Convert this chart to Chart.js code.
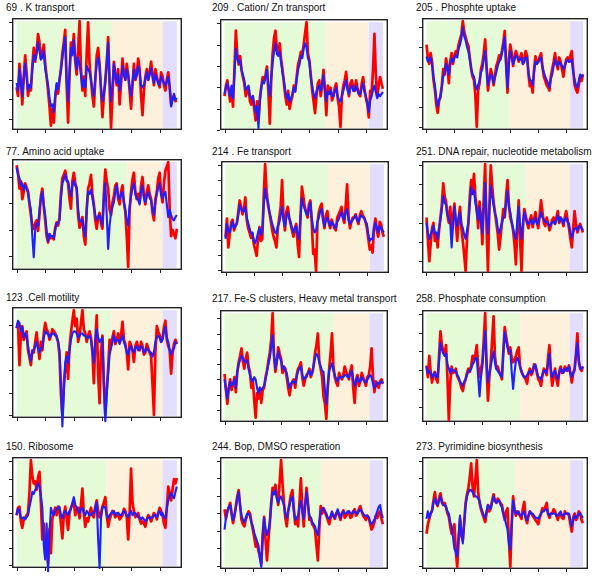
<!DOCTYPE html>
<html><head><meta charset="utf-8">
<script src="https://cdn.jsdelivr.net/npm/chart.js@4/dist/chart.umd.min.js"></script>
<style>
body{margin:0;background:#fff;width:600px;height:576px;position:relative;overflow:hidden;font-family:"Liberation Sans",Arial,Helvetica,sans-serif}
.t{position:absolute;font-size:10px;line-height:12px;color:#111;white-space:nowrap}
canvas{position:absolute}
</style></head><body>
<script>
// sample times (x values)
const times=[0,2.5,5,7.5,10,12.5,15,17.5,20,22.5,25,27.5,30,32.5,35,37.5,40,42.5,45,47.5,50,52.5,55,57.5,60,62.5,65,67.5,70,72.5,75,77.5,80,82.5,85,87.5,90,92.5,95,97.5,100,102.5,105,107.5,110,112.5,115,117.5,120,122.5,125,127.5,130,132.5,135,137.5,140,142.5,145,147.5,150,152.5,155,157.5,160,162.5,165,167.5,170,172.5,175,177.5,180,182.5,185,187.5,190,192.5,195,197.5,200,202.5,205,207.5,210,212.5,215,217.5,220,222.5,225,227.5,230,232.5,235,237.5,240,242.5,245,247.5,250,252.5,255,257.5,260,262.5,265,267.5,270,272.5,275,277.5,280];
const xTicks=[0,50,100,150,200,250];
const titles=["69 . K transport","209 . Cation/ Zn transport","205 . Phosphte uptake","77. Amino acid uptake","214 . Fe transport","251. DNA repair, nucleotide metabolism","123 .Cell motility","217. Fe-S clusters, Heavy metal transport","258. Phosphate consumption","150. Ribosome","244. Bop, DMSO resperation","273. Pyrimidine biosynthesis"];

const red1=[38,30,60,45,22,48,68,52,30,40,35,58,75,62,72,88,80,65,70,78,60,48,35,20,2,18,5,28,40,32,45,55,70,80,92,40,5,50,80,70,88,62,50,72,100,55,35,48,30,70,99,60,45,30,20,45,68,75,60,35,10,30,45,62,85,40,0,30,62,50,40,55,22,42,65,52,45,60,50,35,18,40,60,45,50,65,55,30,12,35,48,55,45,52,62,50,40,55,48,42,38,52,48,40,35,45,52,38,22,28,30,25,26];
const blue1=[42,35,55,42,30,46,60,48,35,40,38,55,68,64,70,80,72,64,66,72,55,48,40,28,20,22,15,30,42,36,45,55,65,76,85,45,25,52,75,68,82,65,55,66,60,50,38,45,38,58,55,52,45,36,30,46,60,66,58,38,25,32,42,60,80,45,25,40,60,50,42,50,35,44,58,50,45,55,50,38,30,42,55,46,50,58,52,40,38,40,46,52,45,50,56,48,42,50,46,42,40,48,45,42,40,44,48,38,20,26,32,26,28];
const red2=[30,40,45,35,25,38,20,55,92,70,60,68,55,48,42,30,35,38,25,22,30,18,7,25,10,28,39,48,45,50,58,35,4,45,70,85,92,75,70,80,65,55,42,30,22,35,18,25,30,40,35,48,60,65,72,70,79,90,100,70,64,50,35,25,14,30,42,45,30,40,55,35,12,40,33,38,26,30,38,42,28,20,1,30,40,45,53,38,30,42,45,38,35,45,38,32,30,42,48,36,28,22,10,35,32,55,89,50,30,40,48,42,37];
const blue2=[32,38,42,36,30,40,28,50,75,66,62,64,55,50,45,36,38,40,30,28,30,22,15,20,0,25,38,44,42,48,55,40,30,46,62,72,80,70,68,72,62,52,45,35,28,32,25,28,32,38,34,45,55,60,68,66,75,80,76,66,62,48,40,32,28,34,38,40,35,42,50,35,25,34,32,36,30,30,35,38,30,26,25,30,35,40,45,36,32,38,40,35,36,40,35,32,32,38,42,34,30,24,15,26,30,36,40,34,28,32,30,32,34];
const red3=[78,66,60,70,62,45,36,22,14,25,30,40,55,50,65,58,42,62,70,60,67,72,70,78,83,88,100,90,85,80,77,66,55,48,45,30,1,35,42,55,60,70,83,58,35,45,55,50,40,48,58,62,68,65,72,80,91,60,33,65,78,70,58,66,72,68,62,66,70,60,64,72,68,50,39,42,33,55,67,60,62,66,70,58,48,44,40,38,35,48,55,62,70,60,55,66,62,55,48,58,64,66,62,68,72,55,40,36,33,40,48,44,50];
const blue3=[67,62,64,66,60,48,40,28,20,26,28,38,48,52,60,56,50,60,65,62,66,68,66,74,78,84,94,86,82,76,72,64,56,50,48,40,36,40,44,52,55,64,72,56,40,46,50,48,42,48,52,58,62,64,70,76,85,58,38,60,72,66,60,64,68,66,64,64,66,60,62,66,66,52,45,44,40,52,62,60,62,64,66,56,52,48,45,42,38,46,50,58,64,60,58,62,60,58,55,58,62,64,62,62,64,52,45,40,38,44,50,48,50];
const red4=[97,90,75,82,65,72,80,76,72,60,50,40,37,42,45,35,50,68,75,58,45,30,24,32,28,30,27,38,43,40,48,70,85,88,92,84,80,65,56,82,90,80,75,50,38,42,48,30,22,55,75,80,88,70,60,45,37,48,52,42,37,70,93,82,75,55,50,62,68,78,80,65,60,72,78,62,53,30,1,55,72,84,90,72,65,70,62,78,86,68,60,72,78,70,65,52,45,65,72,85,90,70,62,80,92,96,100,55,30,36,32,28,37];
const blue4=[95,88,85,78,80,74,78,75,72,62,55,30,10,35,42,40,55,66,72,60,50,35,25,32,30,30,28,36,42,42,45,66,80,84,88,82,82,74,68,78,82,78,76,55,45,44,46,36,30,55,72,70,74,66,58,50,45,48,50,46,40,65,80,50,18,40,52,58,62,72,78,68,65,70,72,62,55,45,40,58,68,76,80,70,66,64,60,72,78,66,62,68,72,66,64,55,50,62,70,76,80,70,66,70,72,60,48,55,50,46,45,48,50];
const red5=[32,49,22,35,45,48,38,42,45,55,66,60,53,58,69,48,40,36,31,35,25,20,14,30,41,28,30,70,100,75,62,55,47,38,32,28,22,40,50,60,85,50,38,55,60,50,44,38,32,40,44,25,13,50,79,70,60,55,50,62,66,45,16,20,0,45,55,60,63,48,40,52,56,45,40,48,44,40,38,50,53,56,60,50,45,62,81,50,40,46,50,50,53,48,44,52,56,52,50,46,40,30,20,24,17,40,49,38,32,46,44,36,32];
const blue5=[30,44,38,36,42,46,40,42,44,52,62,58,56,56,60,50,45,40,35,36,28,26,30,36,40,34,38,60,77,68,65,56,50,44,40,36,35,42,45,52,60,48,42,50,55,50,46,40,36,40,42,34,30,50,68,62,58,54,52,60,64,50,40,36,38,46,50,56,58,48,42,48,50,46,42,46,44,42,40,46,48,52,55,50,48,55,58,48,44,46,48,50,52,48,46,50,52,50,50,46,44,34,28,30,30,40,45,40,36,42,40,38,36];
const red6=[50,30,9,25,40,45,28,35,22,38,50,62,82,70,65,52,45,60,40,50,63,45,28,48,60,40,28,15,0,30,45,70,85,75,91,70,58,40,65,50,25,70,100,40,0,60,99,80,65,55,45,35,20,32,45,58,50,70,85,62,50,45,38,25,6,40,66,30,0,40,58,52,45,40,48,52,41,48,55,46,40,52,66,55,45,42,50,45,38,42,48,50,44,50,56,45,50,48,42,50,56,48,40,30,22,40,56,44,36,40,44,40,36];
const blue6=[45,36,30,34,38,42,35,36,30,40,48,58,70,64,62,52,50,45,22,42,60,48,42,50,55,44,40,34,30,38,45,62,78,72,75,64,55,48,60,46,35,60,82,50,35,55,80,70,62,54,50,40,35,40,45,50,52,64,75,60,55,46,40,34,30,46,60,42,30,45,55,50,45,44,46,48,44,46,50,44,45,50,55,50,48,46,46,44,42,44,46,46,44,48,52,46,50,48,44,48,50,46,44,36,31,36,40,40,38,42,42,40,38];
const red7=[83,88,48,78,85,72,76,80,62,55,48,62,60,70,79,65,54,70,62,78,88,82,79,72,76,82,80,78,74,70,57,20,1,30,45,60,35,65,79,90,100,85,92,70,76,88,100,82,78,70,76,80,74,60,31,70,95,40,12,60,76,30,1,25,45,72,67,74,80,68,72,78,70,76,89,72,68,60,44,70,67,62,51,66,70,64,62,70,66,58,60,68,64,60,56,30,1,60,85,80,76,70,74,84,90,72,66,62,40,60,68,72,68];
const blue7=[83,90,88,80,84,74,78,76,66,58,52,60,62,66,70,64,60,64,64,74,80,78,78,74,76,78,78,76,76,70,62,30,-10,20,50,56,50,62,72,78,80,80,78,74,76,78,78,76,76,74,74,76,72,62,50,70,82,74,70,72,74,30,-5,20,40,58,64,70,76,70,72,72,68,72,76,70,66,60,58,64,66,62,60,64,66,62,64,66,64,60,62,64,62,60,60,56,60,70,74,76,74,70,72,80,84,74,70,62,58,62,64,70,68];
const red8=[43,28,15,30,38,28,33,40,26,45,54,60,67,55,48,58,63,50,45,30,38,18,2,25,20,30,16,28,30,40,46,55,63,75,100,60,45,55,68,62,57,44,50,48,40,30,23,32,36,38,30,42,48,50,54,40,32,38,42,44,48,40,44,50,63,70,81,55,48,40,22,15,1,30,48,62,81,50,40,35,32,44,40,38,42,50,45,42,38,46,51,30,16,38,42,32,36,44,40,36,32,40,42,50,67,40,26,36,32,30,36,38,34];
const blue8=[38,28,20,30,36,32,34,38,30,44,52,56,60,58,55,54,56,48,42,38,36,40,38,30,25,30,28,30,32,38,45,52,58,68,79,60,48,56,64,58,56,48,50,46,44,36,30,34,36,36,34,40,46,48,50,42,38,40,40,44,46,42,44,52,58,62,60,54,50,46,45,28,15,32,46,50,53,46,42,38,36,40,40,40,40,42,42,40,40,44,46,38,32,36,40,36,36,40,38,36,35,38,40,42,40,34,30,32,35,34,35,36,34];
const red9=[51,40,60,45,35,42,45,38,35,60,83,70,65,62,70,40,0,35,50,44,45,48,41,38,35,30,27,34,38,44,48,45,51,60,57,62,70,50,40,48,54,75,100,50,18,40,54,75,97,60,48,50,45,42,38,65,87,78,70,62,68,58,54,56,60,65,68,50,45,42,40,38,34,44,48,42,45,52,50,44,38,36,32,42,48,46,42,58,70,45,32,40,48,38,32,45,50,44,45,50,48,46,51,44,35,44,48,62,81,55,48,46,50];
const blue9=[50,44,46,44,40,42,44,40,40,55,72,66,62,60,62,52,48,44,48,46,46,46,42,40,36,34,32,36,38,42,46,46,48,52,54,58,58,40,22,40,50,68,83,55,35,44,50,58,64,54,48,46,44,42,40,62,82,74,68,64,65,45,29,44,55,58,55,50,46,42,40,40,42,44,46,44,46,50,52,46,40,40,38,42,46,46,44,52,62,48,40,44,46,42,38,44,48,46,44,48,46,48,50,44,40,44,46,60,72,56,48,48,50];
const red10=[48,55,56,42,36,44,45,48,50,70,100,85,78,80,72,84,89,60,25,40,10,20,2,35,12,45,50,55,48,56,52,40,26,48,56,45,34,50,55,58,60,48,52,55,45,58,73,50,37,45,42,50,55,48,46,56,62,52,46,50,56,60,65,48,37,44,48,52,50,46,48,50,44,46,48,54,52,46,25,50,92,60,52,46,48,50,44,40,42,40,37,44,48,46,42,46,50,48,44,50,55,52,48,40,36,55,75,68,62,72,82,78,83];
const blue10=[48,54,52,46,45,46,44,46,48,56,62,70,68,72,74,78,75,66,55,20,6,40,-5,30,55,50,48,52,54,55,56,48,45,50,52,50,48,52,54,60,65,58,55,52,50,54,55,50,48,52,50,48,48,50,50,55,60,25,-2,45,55,56,55,48,45,48,50,50,52,48,50,50,48,48,50,52,50,48,46,50,52,48,50,50,48,46,46,44,46,44,42,44,46,46,45,46,48,48,46,50,52,48,50,46,45,55,62,66,69,66,64,70,75];
const red11=[54,45,52,56,60,50,41,48,57,66,72,58,44,40,38,44,48,52,50,42,35,28,19,22,15,10,3,30,47,25,6,25,40,60,74,70,77,66,58,80,100,78,60,46,38,52,60,68,72,55,40,45,38,60,83,55,38,58,74,60,44,46,40,38,35,20,6,35,57,50,55,52,48,44,40,46,50,48,45,50,52,48,44,50,53,46,48,50,52,46,47,52,54,48,50,54,57,52,48,46,44,48,46,40,35,38,42,48,46,50,52,45,40];
const blue11=[35,46,52,56,58,50,44,48,55,64,70,58,48,44,42,46,50,50,48,42,38,32,28,24,20,8,0,28,46,36,30,34,42,58,70,68,72,64,60,64,66,62,58,50,46,52,58,64,66,52,44,46,48,56,62,52,45,58,70,58,48,46,42,40,38,32,30,42,52,54,55,52,50,46,45,48,52,48,46,50,54,50,46,50,52,50,50,52,52,50,50,52,52,50,50,52,54,52,50,48,48,48,46,42,40,42,44,48,52,56,58,50,46];
const red12=[31,40,45,50,53,62,70,60,57,64,69,62,58,60,56,50,47,38,31,34,40,15,0,25,45,30,25,42,60,68,74,84,97,75,66,82,100,70,60,54,50,46,42,50,58,52,56,62,68,62,60,64,62,60,58,50,44,52,55,25,0,40,66,54,48,52,50,48,45,55,61,46,41,48,52,50,48,46,44,42,40,46,50,55,53,56,60,50,46,50,50,54,52,48,44,50,50,46,45,52,50,50,48,40,33,46,50,44,46,52,50,44,41];
const blue12=[45,52,46,50,52,60,64,60,58,62,66,60,58,58,56,52,50,42,38,28,17,14,10,30,48,30,22,40,58,66,70,72,72,70,68,66,66,64,62,56,52,48,46,52,58,56,54,60,66,62,60,62,62,58,56,50,46,40,35,22,16,40,62,54,50,50,52,48,48,50,52,46,44,48,52,50,50,48,46,46,45,48,50,52,52,54,54,50,48,50,50,50,50,48,48,50,52,48,48,50,50,50,50,44,38,44,48,46,48,50,50,48,46];

// phase boundaries [start, green end, orange end, end]
const phases=[[0,168,255,280],[0,180,255,280],[0,148,257,280],[0,194,255,280],[0,181,255,280],[0,179,256,280],[0,166,255,280],[0,192,256,280],[0,168,256,280],[0,157,255,280],[0,171,257,280],[0,158,257,280]];
// y tick values
const yTicks=[
 [8.4,26.6,44.8,63,81.2,99.4],
 [-2,18.2,38.4,58.6,78.8,99],
 [0.4,19.3,38.2,57.1,76,94.9],
 [11.5,36.3,61.1,85.9],
 [0.6,14.7,28.8,42.9,57,71.1,85.2,99.3],
 [9.4,27.3,45.2,63.1,81,98.9],
 [0.5,21.9,43.3,64.7,86.1],
 [9.4,23.7,38,52.3,66.6,80.9,95.2],
 [12,29.4,46.8,64.2,81.6,99],
 [1,17.3,33.6,49.9,66.2,82.5,98.8],
 [1,17.4,33.8,50.2,66.6,83,99.4],
 [1,17.4,33.8,50.2,66.6,83,99.4]
];
const reds=[red1,red2,red3,red4,red5,red6,red7,red8,red9,red10,red11,red12];
const blues=[blue1,blue2,blue3,blue4,blue5,blue6,blue7,blue8,blue9,blue10,blue11,blue12];

// layout (frame left, top, width, height) and title positions
const frames=[[12,18,170,112],[220,19,168,111],[422,18,166,112],
 [12,159,170,111],[221,161,168,112],[422,161,166,112],
 [12,307,170,111],[220,310,168,112],[422,310,166,112],
 [12,457,170,111],[220,457,168,112],[422,457,166,112]];
const titlePos=[[6,8],[212,8],[416,8],[6,152],[212,152],[416,152],[6,298],[212,299],[416,299],[6,447],[212,447],[416,447]];
const bandColors=['#e5fad6','#fdf1dc','#e3defd'];

for(let k=0;k<12;k++){
  const tdiv=document.createElement('div');
  tdiv.className='t';
  tdiv.textContent=titles[k];
  tdiv.style.left=titlePos[k][0]+'px';
  tdiv.style.top=(titlePos[k][1]-6)+'px';
  document.body.appendChild(tdiv);

  const [fl,ft,fw,fh]=frames[k];
  const cv=document.createElement('canvas');
  const W=fw+6,H=fh+12;
  cv.width=W;cv.height=H;
  cv.style.width=W+'px';cv.style.height=H+'px';
  cv.style.left=(fl-4)+'px';cv.style.top=(ft-2)+'px';
  document.body.appendChild(cv);

  const deco={id:'deco'+k,beforeDatasetsDraw(chart){
    const ctx=chart.ctx,a=chart.chartArea,x=chart.scales.x,y=chart.scales.y;
    ctx.save();
    const yTop=y.getPixelForValue(100),yBot=y.getPixelForValue(0);
    const ph=phases[k];
    for(let i=0;i<3;i++){
      const x0=x.getPixelForValue(ph[i]),x1=x.getPixelForValue(ph[i+1]);
      ctx.fillStyle=bandColors[i];
      ctx.fillRect(x0,yTop,x1-x0,yBot-yTop);
    }
    ctx.strokeStyle='#222';
    ctx.lineWidth=1.4;
    ctx.strokeRect(a.left+0.7,a.top+0.7,a.right-a.left-1.4,a.bottom-a.top-1.4);
    ctx.lineWidth=1;
    ctx.beginPath();
    yTicks[k].forEach(v=>{const py=Math.round(y.getPixelForValue(v))+0.5;ctx.moveTo(a.left-3,py);ctx.lineTo(a.left,py);});
    xTicks.forEach(v=>{const px=Math.round(x.getPixelForValue(v))+0.5;ctx.moveTo(px,a.bottom);ctx.lineTo(px,a.bottom+3);});
    ctx.stroke();
    ctx.restore();
  }};

  new Chart(cv,{
    type:'line',
    data:{datasets:[
      {data:times.map((t,i)=>({x:t,y:blues[k][i]})),borderColor:'#1f1fff',borderWidth:2.1,pointRadius:0,tension:0,clip:false,borderJoinStyle:'round'},
      {data:times.map((t,i)=>({x:t,y:reds[k][i]})),borderColor:'#ff0000',borderWidth:2.7,pointRadius:0,tension:0,clip:false,borderJoinStyle:'round'}
    ]},
    options:{
      responsive:false,animation:false,devicePixelRatio:1,
      layout:{padding:{left:4,right:2,top:2,bottom:10}},
      plugins:{legend:{display:false},tooltip:{enabled:false}},
      events:[],
      scales:{
        x:{type:'linear',display:false,min:-8,max:289},
        y:{type:'linear',display:false,min:-2,max:103}
      }
    },
    plugins:[deco]
  });
}
</script>
</body></html>
